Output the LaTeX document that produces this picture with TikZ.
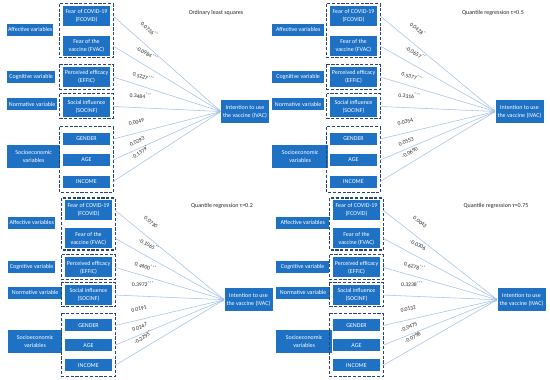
\documentclass[tikz,border=0pt]{standalone}
\usepackage{fontspec}
\setmainfont{Carlito}
\usetikzlibrary{arrows.meta}
\definecolor{boxblue}{RGB}{31,113,196}
\definecolor{navy}{RGB}{38,68,118}
\definecolor{edgeblue}{RGB}{164,194,232}
\definecolor{labgray}{RGB}{40,40,40}
\tikzset{
  vbox/.style={fill=boxblue, text=white, align=center, inner sep=0pt,
    font=\fontsize{6}{8}\selectfont, minimum width=47pt},
  catbox/.style={vbox, anchor=west, minimum height=12pt},
  grp/.style={draw=navy, line width=1.2pt, dash pattern=on 3.2pt off 1.6pt},
  edge/.style={draw=edgeblue, line width=0.55pt, -{Latex[length=2.2pt,width=2pt]}},
  lab/.style={sloped, above=4pt, inner sep=0.2pt, text=labgray,
    font=\fontsize{5.6}{6.2}\selectfont},
  ttl/.style={text=labgray, font=\fontsize{6}{7}\selectfont, inner sep=0pt},
}
\newcommand\drawpanel{%
  \node[ttl] (title) at (\tx,\ty) {\ttext};
  \node[vbox, minimum height=20pt] (fc) at (86.5,16) {Fear of COVID-19\\(FCOVID)};
  \node[vbox, minimum height=20pt] (fv) at (86.5,46) {Fear of the\\vaccine (FVAC)};
  \node[vbox, minimum height=20pt] (ef) at (86.5,77) {Perceived efficacy\\(EFFIC)};
  \node[vbox, minimum height=20pt] (si) at (86.5,106.5) {Social influence\\(SOCINF)};
  \node[vbox, minimum height=12pt] (ge) at (86.5,139) {GENDER};
  \node[vbox, minimum height=12.5pt] (ag) at (86.5,160) {AGE};
  \node[vbox, minimum height=12pt] (inc) at (86.5,181.5) {INCOME};
  \node[catbox, minimum width=\wA pt] (ca) at (\pL,29.5) {Affective variables};
  \node[catbox, minimum width=\wC pt] (cc) at (\pL,77) {Cognitive variable};
  \node[catbox, minimum width=\wN pt] (cn) at (\pL,104) {Normative variable};
  \node[catbox, minimum width=\wS pt, minimum height=23pt] (cs) at (\pL,156.5) {Socioeconomic\\variables};
  \node[vbox, minimum width=48pt, minimum height=23pt] (iv) at (\ix,111.5) {Intention to use\\the vaccine (IVAC)};
  \draw[grp] ([xshift=-3pt,yshift=2pt]fc.north west) rectangle ([xshift=3pt,yshift=-1.5pt]fv.south east);
  \draw[grp] ([xshift=-3pt,yshift=2.5pt]ef.north west) rectangle ([xshift=3pt,yshift=-2pt]ef.south east);
  \draw[grp] ([xshift=-3pt,yshift=2.5pt]si.north west) rectangle ([xshift=3pt,yshift=-1.5pt]si.south east);
  \draw[grp] ([xshift=-3pt,yshift=6pt]ge.north west) rectangle ([xshift=3pt,yshift=-5pt]inc.south east);
  \draw[edge] ([xshift=3pt]fc.east) -- node[lab, pos=0.25, above=7pt]{\la} (iv.west);
  \draw[edge] ([xshift=3pt]fv.east) -- node[lab, pos=0.26, above=4.3pt]{\lb} (iv.west);
  \draw[edge] ([xshift=3pt]ef.east) -- node[lab, pos=0.255, above=2.5pt]{\lc} (iv.west);
  \draw[edge] ([xshift=3pt]si.east) -- node[lab, pos=0.25, above=5pt]{\ld} (iv.west);
  \draw[edge] ([xshift=3pt]ge.east) -- node[lab, pos=0.24, above=4.3pt]{\le} (iv.west);
  \draw[edge] ([xshift=3pt]ag.east) -- node[lab, pos=0.25, above=0.8pt]{\lf} (iv.west);
  \draw[edge] ([xshift=3pt]inc.east) -- node[lab, pos=0.3, above=3pt]{\lg} (iv.west);
}
\begin{document}
\begin{tikzpicture}[x=1pt, y=-1pt]
\fill[white] (0,0) rectangle (550,380);
\useasboundingbox (0,0) rectangle (550,380);
% panel 1: OLS
\begin{scope}[name prefix=p1-]
  \def\ttext{Ordinary least squares}\def\tx{216}\def\ty{13}
  \def\pL{7}\def\wA{46}\def\wC{48}\def\wN{50}\def\wS{53}\def\ix{245}
  \def\la{0.0736\textsuperscript{**}}\def\lb{-0.0984\textsuperscript{***}}
  \def\lc{0.5227\textsuperscript{***}}\def\ld{0.3484\textsuperscript{***}}
  \def\le{0.0049}\def\lf{0.0293}\def\lg{-0.1379\textsuperscript{*}}
  \drawpanel
\end{scope}
% panel 2: tau=0.5
\begin{scope}[name prefix=p2-, shift={(267,0)}]
  \def\ttext{Quantile regression τ=0.5}\def\tx{226}\def\ty{13}
  \def\pL{5}\def\wA{52}\def\wC{52}\def\wN{52}\def\wS{56}\def\ix{252.5}
  \def\la{0.0428\textsuperscript{*}}\def\lb{-0.0657\textsuperscript{**}}
  \def\lc{0.5377\textsuperscript{***}}\def\ld{0.3316\textsuperscript{***}}
  \def\le{0.0354}\def\lf{0.0553}\def\lg{-0.0690}
  \drawpanel
\end{scope}
% panel 3: tau=0.2
\begin{scope}[name prefix=p3-, shift={(2,195.25)}, y=-0.937pt]
  \def\ttext{Quantile regression τ=0.2}\def\tx{220}\def\ty{11.5}
  \def\pL{6}\def\wA{47}\def\wC{47}\def\wN{54}\def\wS{54}\def\ix{246.5}
  \def\la{0.0730}\def\lb{-0.1065\textsuperscript{**}}
  \def\lc{0.4600\textsuperscript{***}}\def\ld{0.3972\textsuperscript{***}}
  \def\le{0.0191}\def\lf{0.0247}\def\lg{-0.2295\textsuperscript{*}}
  \drawpanel
\end{scope}
% panel 4: tau=0.75
\begin{scope}[name prefix=p4-, shift={(270,195.25)}, y=-0.937pt]
  \def\ttext{Quantile regression τ=0.75}\def\tx{226}\def\ty{11.5}
  \def\pL{6}\def\wA{53}\def\wC{53}\def\wN{54}\def\wS{56}\def\ix{251.5}
  \def\la{0.0043}\def\lb{-0.0306}
  \def\lc{0.6278\textsuperscript{***}}\def\ld{0.3238\textsuperscript{***}}
  \def\le{0.0132}\def\lf{-0.0475}\def\lg{-0.0798}
  \drawpanel
\end{scope}
\end{tikzpicture}
\end{document}
